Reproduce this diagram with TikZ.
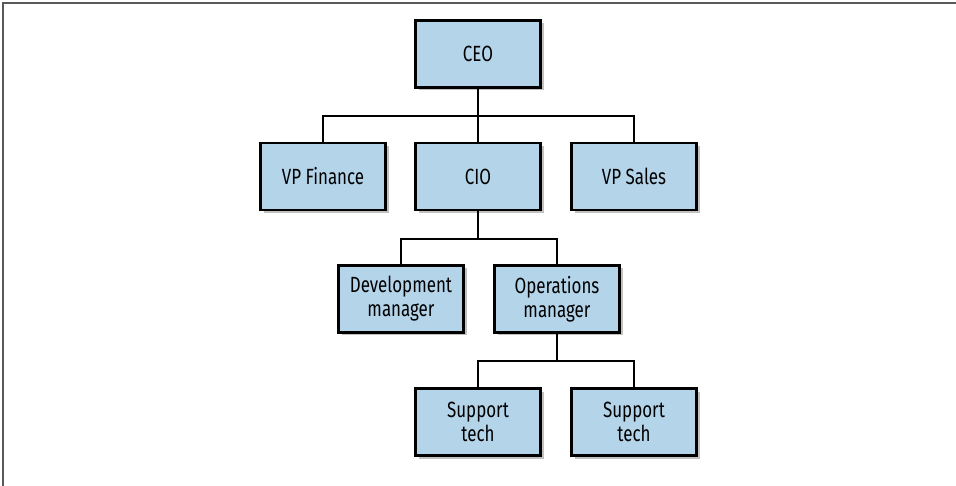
\documentclass[tikz,border=0pt]{standalone}
\usepackage{fontspec}
\setmainfont{Fira Sans}[FakeStretch=0.77]
\usetikzlibrary{shadows}
\definecolor{boxblue}{HTML}{B4D4EA}
\begin{document}
\begin{tikzpicture}[x=1pt,y=-1pt,
  orgbox/.style={draw=black, line width=2.5pt, fill=boxblue,
    minimum width=125pt, minimum height=67pt, inner sep=0pt, align=center,
    font=\fontsize{22}{24}\selectfont,
    drop shadow={shadow xshift=3pt, shadow yshift=-3pt, opacity=0.35, fill=black!70}},
  link/.style={draw=black, line width=2.5pt},
  frame/.style={draw=black!65, line width=1.5pt}]
\useasboundingbox (0,0) rectangle (956,486);
\draw[frame] (3,486) -- (3,3) -- (956,3);
\node[orgbox] (ceo) at (478,54) {CEO};
\node[orgbox] (vpf) at (323,176.5) {VP Finance};
\node[orgbox] (cio) at (478,176.5) {CIO};
\node[orgbox] (vps) at (634,176.5) {VP Sales};
\node[orgbox] (dev) at (401,299) {Development\\manager};
\node[orgbox] (ops) at (557,299) {Operations\\manager};
\node[orgbox] (st1) at (478,422) {Support\\tech};
\node[orgbox] (st2) at (634,422) {Support\\tech};
\coordinate (j1) at (478,116);
\coordinate (j2) at (478,239);
\coordinate (j3) at (557,361);
\draw[link] (ceo.south) -- (cio.north);
\draw[link] (vpf.north) |- (j1) -| (vps.north);
\draw[link] (cio.south) -- (j2);
\draw[link] (dev.north) |- (j2) -| (ops.north);
\draw[link] (ops.south) -- (j3);
\draw[link] (st1.north) |- (j3) -| (st2.north);
\end{tikzpicture}
\end{document}
